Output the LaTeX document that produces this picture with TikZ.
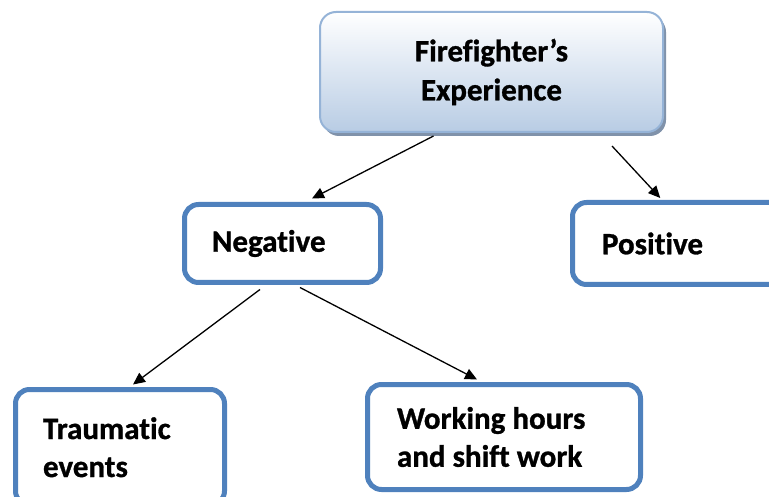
\documentclass[tikz,border=0pt]{standalone}
\usepackage{fontspec}
\setmainfont{Carlito}[Ligatures=NoCommon, BoldFeatures={FakeBold=1}]
\usetikzlibrary{arrows.meta,shadows,calc}
\definecolor{blue}{RGB}{79,129,189}
\definecolor{topline}{RGB}{149,179,215}
\definecolor{topfill}{RGB}{184,204,228}
\definecolor{topshadow}{RGB}{128,146,170}

\begin{document}
\begin{tikzpicture}[%
        x=1pt, y=-1pt,
        basic/.style={rounded corners=14pt, draw=blue, line width=5pt, fill=white, align=flush left,
            inner ysep=0pt, font=\bfseries\fontsize{31}{38}\selectfont},
        root/.style={rounded corners=16pt, draw=topline, line width=2pt, top color=white,
            bottom color=topfill, align=center, font=\bfseries\fontsize{31}{39}\selectfont,
            drop shadow={shadow xshift=3pt, shadow yshift=-4pt, fill=topshadow, opacity=1}},
        dep/.style={-{Triangle[length=12pt,width=11pt]}, line width=1.3pt}
        ]
        \useasboundingbox (0,0) rectangle (769,497);
        \clip (0,0) rectangle (769,497);
        \node[root, minimum width=343pt, minimum height=120pt] (exp) at (491.5,72) {Firefighter’s\\Experience};
        \node[basic, minimum width=196pt, minimum height=78pt, inner xsep=27.5pt, text width=141pt] (neg) at (282.5,243.5) {Negative};
        \node[basic, minimum width=217.5pt, minimum height=82pt, inner xsep=29.5pt, text width=158.5pt] (pos) at (681.25,243.5) {Positive};
        \node[basic, minimum width=209pt, minimum height=115.5pt, inner xsep=27.5pt, text width=154pt] (trm) at (120,447.25) {Traumatic\\events};
        \node[basic, minimum width=273pt, minimum height=105pt, inner xsep=29.5pt, text width=214pt] (wrk) at (504,437) {Working hours\\and shift work};
        \draw[dep] ($(exp.south)+(-58,3)$) -- ($(neg.north)+(29.5,-3.5)$);
        \draw[dep] ($(exp.south)+(120.5,13)$) -- ($(pos.north)+(-21,-2)$);
        \draw[dep] ($(neg.south)+(-22.5,4.5)$) -- ($(trm.north)+(13,-2.5)$);
        \draw[dep] ($(neg.south)+(17.5,2.5)$) -- ($(wrk.north)+(-27,-2.5)$);
    \end{tikzpicture}
\end{document}
